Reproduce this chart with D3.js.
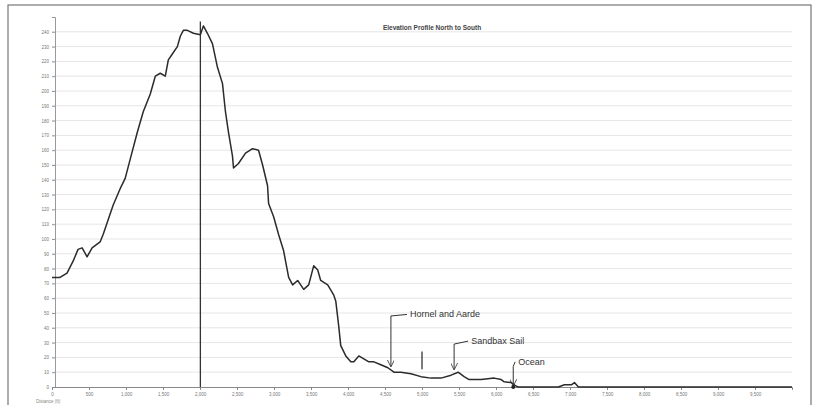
<!DOCTYPE html>
<html>
<head>
<meta charset="utf-8">
<script src="https://cdn.jsdelivr.net/npm/d3@7"></script>
<style>
  body { margin: 0; background: #fff; }
  svg { display: block; font-family: Arial, "Liberation Sans", sans-serif; }
</style>
</head>
<body>
<div id="plot"></div>
<script>
// Elevation profile
const distance = [0, 108, 203, 285, 352, 407, 474, 542, 650, 691, 759, 827, 921, 989, 1057, 1152, 1233, 1328, 1396, 1463,
  1531, 1572, 1626, 1694, 1734, 1775, 1829, 1911, 2005, 2046, 2100, 2168, 2236, 2304, 2344, 2385, 2439, 2453, 2520, 2615,
  2710, 2791, 2846, 2913, 2927, 2995, 3062, 3130, 3198, 3252, 3320, 3401, 3469, 3537, 3591, 3631, 3726, 3808, 3835, 3875,
  3902, 3970, 4038, 4079, 4146, 4214, 4282, 4350, 4444, 4539, 4621, 4715, 4851, 4986, 5122, 5257, 5393, 5488, 5569, 5637,
  5799, 5976, 6070, 6111, 6206, 6274, 6301, 6843, 6924, 7019, 7060, 7114, 7832, 10000];
const elevation = [74, 74, 77, 85, 93, 94, 88, 94, 98, 103, 113, 123, 134, 141, 154, 172, 186, 198, 210, 212,
  210, 221, 225, 230, 237, 241, 241, 239, 238, 244, 239, 232, 216, 205, 186, 172, 156, 148, 151, 158,
  161, 160, 150, 136, 124, 115, 103, 92, 74, 69, 72, 66, 69, 82, 79, 72, 69, 62, 58, 41,
  28, 21, 17, 17, 21, 19, 17, 17, 15, 13, 10, 10, 9, 7, 6, 6, 8, 10, 7, 5,
  5, 6, 5, 3.5, 3, 0.5, 0, 0, 1.5, 1.5, 3, 0, 0, 0];

const yTicks = d3.range(0, 250, 10);
const xTicks = d3.range(0, 10000, 500);

// marker lines [distance, from, to]
const markers = [[2005, 0, 247], [5000, 12, 24]];

// callouts: label, arrow tip, elbow height, label position
const calloutLabel = ["Hornel and Aarde", "Sandbax Sail", "Ocean"];
const calloutTip = [[4580, 14], [5434, 12], [6233, 1]];
const calloutElbow = [48, 29, 14];
const calloutText = [[4837, 49], [5664, 31], [6300, 17]];

const title = "Elevation Profile North to South";

const width = 816, height = 405;
const margin = {top: 25, right: 24, bottom: 18, left: 52};

const svg = d3.select("#plot").append("svg")
  .attr("width", width)
  .attr("height", height);

// outer frame of the scanned chart
svg.append("rect")
  .attr("x", 8).attr("y", 5)
  .attr("width", 803).attr("height", 420)
  .attr("fill", "none").attr("stroke", "#777").attr("stroke-width", 1.2);

const x = d3.scaleLinear().domain([0, 10000]).range([margin.left, width - margin.right]);
const y = d3.scaleLinear().domain([0, 250]).range([height - margin.bottom, margin.top - 8]);

// horizontal gridlines
svg.append("g")
  .selectAll("line")
  .data(yTicks.slice(1))
  .enter()
  .append("line")
  .attr("x1", x(0)).attr("x2", x(10000))
  .attr("y1", d => y(d)).attr("y2", d => y(d))
  .attr("stroke", "#e6e6e6").attr("stroke-width", 1);

// Y axis
svg.append("g")
  .attr("transform", "translate(" + (x(0) + 3) + ",0)")
  .call(d3.axisLeft(y).tickValues(yTicks).tickSize(3).tickFormat(d3.format("d")))
  .call(g => g.select(".domain").attr("stroke", "#999"))
  .call(g => g.selectAll("line").attr("stroke", "#999"))
  .selectAll("text")
    .attr("font-size", 4.5)
    .attr("fill", "#777");

// X axis
svg.append("g")
  .attr("transform", "translate(0," + y(0) + ")")
  .call(d3.axisBottom(x).tickValues(xTicks).tickSize(3).tickFormat(d3.format(",")))
  .call(g => g.select(".domain").attr("stroke", "#888"))
  .call(g => g.selectAll("line").attr("stroke", "#888"))
  .selectAll("text")
    .attr("font-size", 4.5)
    .attr("fill", "#777");

svg.append("text")
  .attr("x", 36).attr("y", 403)
  .attr("font-size", 4.5).attr("fill", "#888")
  .text("Distance (ft)");

// title
svg.append("text")
  .attr("x", 432).attr("y", 30)
  .attr("text-anchor", "middle")
  .attr("font-size", 6.5).attr("font-weight", "bold")
  .attr("fill", "#444")
  .text(title);

// vertical marker lines
svg.append("g")
  .selectAll("line")
  .data(markers)
  .enter()
  .append("line")
  .attr("x1", d => x(d[0])).attr("x2", d => x(d[0]))
  .attr("y1", d => y(d[1])).attr("y2", d => y(d[2]))
  .attr("stroke", "#333").attr("stroke-width", 1.3);

// profile line
const profile = distance.map((d, i) => [d, elevation[i]]);
svg.append("path")
  .datum(profile)
  .attr("fill", "none")
  .attr("stroke", "#2b2b2b")
  .attr("stroke-width", 1.5)
  .attr("stroke-linejoin", "round")
  .attr("d", d3.line().x(d => x(d[0])).y(d => y(d[1])));

// callouts
svg.append("defs").append("marker")
  .attr("id", "arrow")
  .attr("viewBox", "0 0 10 10")
  .attr("refX", 9).attr("refY", 5)
  .attr("markerWidth", 7).attr("markerHeight", 7)
  .attr("orient", "auto-start-reverse")
  .append("path")
  .attr("d", "M0,0 L10,5 L0,10")
  .attr("fill", "none").attr("stroke", "#333").attr("stroke-width", 1.2);

calloutLabel.forEach(function(label, i) {
  const tip = calloutTip[i], txt = calloutText[i];
  svg.append("path")
    .attr("fill", "none")
    .attr("stroke", "#333").attr("stroke-width", 1)
    .attr("marker-end", "url(#arrow)")
    .attr("d", "M" + (x(txt[0]) - 3) + "," + y(txt[1]) +
               "L" + x(tip[0]) + "," + y(calloutElbow[i]) +
               "L" + x(tip[0]) + "," + y(tip[1]));
  svg.append("text")
    .attr("x", x(txt[0])).attr("y", y(txt[1]) + 3)
    .attr("font-size", 9)
    .attr("fill", "#333")
    .text(label);
});

// ocean dot
svg.append("circle")
  .attr("cx", x(calloutTip[2][0])).attr("cy", y(0))
  .attr("r", 2).attr("fill", "#222");
</script>
</body>
</html>
